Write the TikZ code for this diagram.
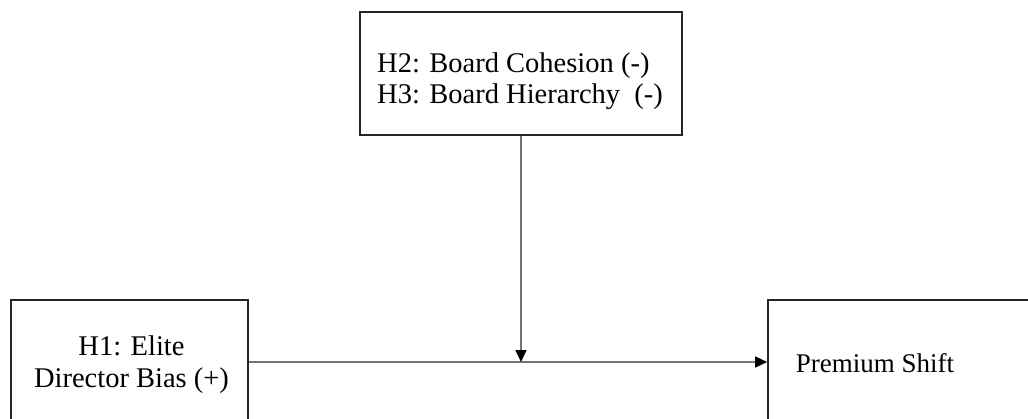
\documentclass[tikz,border=0pt]{standalone}
\usepackage{fontspec}
\setmainfont{Liberation Serif}
\usetikzlibrary{arrows.meta}
\begin{document}
\begin{tikzpicture}[x=1pt,y=-1pt,
  box/.style={draw=black!85,line width=1.6pt,rectangle,inner sep=0pt},
  lbl/.style={inner sep=0pt,font=\fontsize{28.5}{31}\selectfont},
  lblsm/.style={inner sep=0pt,font=\fontsize{27}{31}\selectfont},
  conn/.style={draw=black!55,line width=1.4pt,-{Triangle[width=11pt,length=12pt,color=black]}}]
\useasboundingbox (0,0) rectangle (1028,418);
\clip (0,0) rectangle (1028,418);
\node[box,minimum width=322pt,minimum height=123pt] (top) at (521,73.5) {};
\node[box,minimum width=237pt,minimum height=124pt] (h1) at (129.5,362) {};
\node[box,minimum width=300pt,minimum height=124pt] (ps) at (918,362) {};
\node[lbl,anchor=base west] (t2) at (377,72) {H2: Board Cohesion (-)};
\node[lbl,anchor=base west] (t3) at (377,103) {H3: Board Hierarchy\ \ (-)};
\node[lbl,anchor=base] (t1a) at (131.5,355) {H1: Elite};
\node[lbl,anchor=base] (t1b) at (131.5,387) {Director Bias (+)};
\node[lblsm,anchor=base] (tps) at (875,372) {Premium Shift};
\coordinate (m) at (top.south |- h1.east);
\draw[conn] (h1.east) -- (ps.west);
\draw[conn] (top.south) -- (m);
\end{tikzpicture}
\end{document}
